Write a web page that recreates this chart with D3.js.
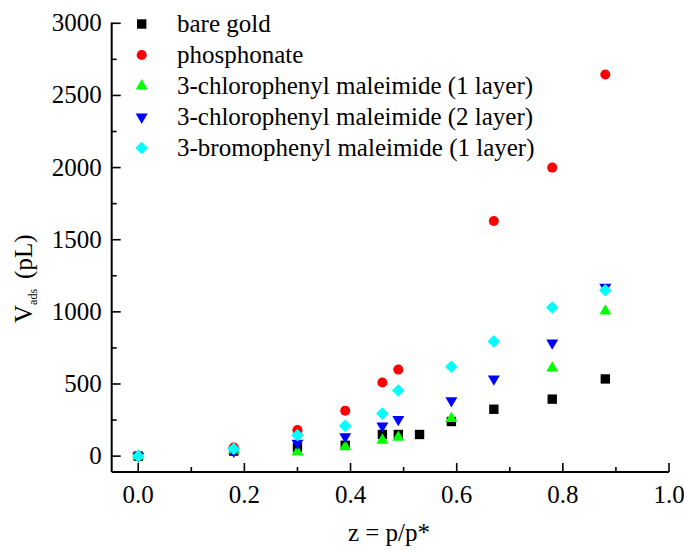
<!DOCTYPE html>
<html lang="en">
<head>
<meta charset="UTF-8">
<title>Vads vs p/p*</title>
<script src="https://cdn.jsdelivr.net/npm/d3@7"></script>
<style>
  body { margin: 0; background: #fff; }
  svg text { font-family: "Liberation Serif", "Times New Roman", serif; fill: #000; }
</style>
</head>
<body>
<div id="chart-space"></div>
<script>
    // values
    var seriesNames = ["bare gold", "phosphonate", "3-chlorophenyl maleimide (1 layer)",
                       "3-chlorophenyl maleimide (2 layer)", "3-bromophenyl maleimide (1 layer)"];

    var bareGoldZ   = [0, 0.18, 0.30, 0.39, 0.46, 0.49, 0.53, 0.59, 0.67, 0.78, 0.88];
    var bareGoldV   = [0, 35, 60, 75, 150, 150, 150, 240, 325, 395, 535];

    var phosphZ     = [0, 0.18, 0.30, 0.39, 0.46, 0.49, 0.67, 0.78, 0.88];
    var phosphV     = [0, 60, 180, 315, 510, 600, 1630, 2000, 2645];

    var chloro1Z    = [0, 0.18, 0.30, 0.39, 0.46, 0.49, 0.59, 0.78, 0.88];
    var chloro1V    = [0, 40, 30, 65, 110, 130, 260, 610, 1005];

    var chloro2Z    = [0, 0.18, 0.30, 0.39, 0.46, 0.49, 0.59, 0.67, 0.78, 0.88];
    var chloro2V    = [0, 35, 90, 135, 210, 255, 385, 535, 785, 1170];

    var bromoZ      = [0, 0.18, 0.30, 0.39, 0.46, 0.49, 0.59, 0.67, 0.78, 0.88];
    var bromoV      = [0, 50, 145, 210, 295, 455, 620, 795, 1030, 1150];

    var xTicks = [0, 0.2, 0.4, 0.6, 0.8, 1.0];
    var yTicks = [0, 500, 1000, 1500, 2000, 2500, 3000];

    var colors  = ["#000000", "#ff0000", "#00ff00", "#0000ff", "#00ffff"];
    var symbols = [d3.symbolSquare, d3.symbolCircle, d3.symbolTriangle, d3.symbolTriangle, d3.symbolSquare];
    var rotations = [0, 0, 0, 180, 45];
    var sizes = [88, 80, 62, 62, 80];

    var width = 684;
    var height = 550;

    var svg = d3.select("#chart-space")
                .append("svg")
                .attr("width", width)
                .attr("height", height);

    var xScale = d3.scaleLinear()
                   .domain([-0.05, 1.0])
                   .range([111.7, 669]);

    var yScale = d3.scaleLinear()
                   .domain([-110, 3000])
                   .range([472, 23.3]);

    // x axis, ticks pointing inward
    var gx = svg.append("g").attr("transform", "translate(0," + yScale.range()[0] + ")");
    gx.append("line")
      .attr("x1", xScale.range()[0]).attr("x2", xScale.range()[1])
      .attr("stroke", "#000").attr("stroke-width", 2);
    gx.selectAll(".xt")
      .data(d3.range(0, 11))
      .join("line")
      .attr("x1", function(i){ return xScale(i / 10); })
      .attr("x2", function(i){ return xScale(i / 10); })
      .attr("y1", 0)
      .attr("y2", function(i){ return i % 2 == 0 ? -9 : -5; })
      .attr("stroke", "#000").attr("stroke-width", 1.6);
    gx.selectAll(".xl")
      .data(xTicks)
      .join("text")
      .attr("x", function(d){ return xScale(d); })
      .attr("y", 31)
      .attr("text-anchor", "middle")
      .attr("font-size", 25)
      .text(d3.format(".1f"));

    // y axis
    var gy = svg.append("g").attr("transform", "translate(" + xScale.range()[0] + ",0)");
    gy.append("line")
      .attr("y1", yScale.range()[0]).attr("y2", yScale.range()[1] - 0.7)
      .attr("stroke", "#000").attr("stroke-width", 2);
    gy.selectAll(".yt")
      .data(d3.range(0, 13))
      .join("line")
      .attr("y1", function(i){ return yScale(i * 250); })
      .attr("y2", function(i){ return yScale(i * 250); })
      .attr("x1", 0)
      .attr("x2", function(i){ return i % 2 == 0 ? 9 : 5; })
      .attr("stroke", "#000").attr("stroke-width", 1.6);
    gy.selectAll(".yl")
      .data(yTicks)
      .join("text")
      .attr("x", -10)
      .attr("y", function(d){ return yScale(d) + 8; })
      .attr("text-anchor", "end")
      .attr("font-size", 25)
      .text(function(d){ return d; });

    // axis titles
    svg.append("text")
       .attr("x", 389)
       .attr("y", 541)
       .attr("text-anchor", "middle")
       .attr("font-size", 25)
       .text("z = p/p*");

    var yl = svg.append("text")
       .attr("transform", "translate(32,323) rotate(-90)")
       .attr("font-size", 25);
    yl.append("tspan").text("V");
    yl.append("tspan").attr("font-size", 12).attr("dy", 5).text("ads");
    yl.append("tspan").attr("dy", -5).attr("dx", 10).text("(pL)");

    function marker(s) {
        return d3.symbol().type(symbols[s]).size(sizes[s]);
    }

    // points
    var allZ = [bareGoldZ, phosphZ, chloro1Z, chloro2Z, bromoZ];
    var allV = [bareGoldV, phosphV, chloro1V, chloro2V, bromoV];

    allZ.forEach(function(zs, s){
        var pts = zs.map(function(z, i){ return {z: z, v: allV[s][i]}; });
        svg.append("g")
           .selectAll("path")
           .data(pts)
           .join("path")
           .attr("d", marker(s))
           .attr("transform", function(d){
               return "translate(" + xScale(d.z) + "," + yScale(d.v) + ") rotate(" + rotations[s] + ")";
           })
           .attr("fill", colors[s]);
    });

    // legend
    var legend = svg.append("g");
    seriesNames.forEach(function(name, s){
        var y = 24 + s * 31;
        legend.append("path")
              .attr("d", marker(s))
              .attr("transform", "translate(141.7," + y + ") rotate(" + rotations[s] + ")")
              .attr("fill", colors[s]);
        legend.append("text")
              .attr("x", 177)
              .attr("y", y + 8)
              .attr("font-size", 25)
              .text(name);
    });
</script>
</body>
</html>
